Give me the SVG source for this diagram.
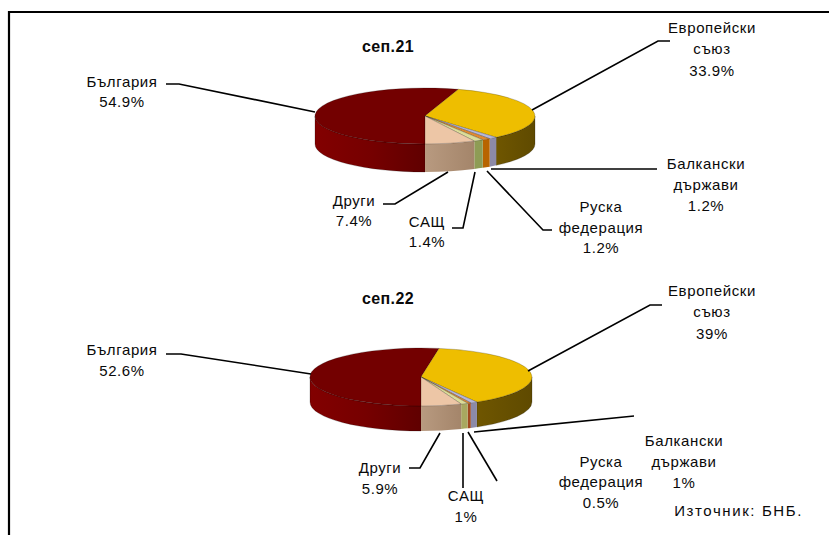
<svg xmlns="http://www.w3.org/2000/svg" width="829" height="535" viewBox="0 0 829 535">
<style>
text{font-family:"Liberation Sans",Arial,sans-serif;font-size:15px;fill:#0a0a0a;text-anchor:middle;letter-spacing:0.6px}
.title{font-weight:bold;font-size:16px;letter-spacing:0.4px}
.src{text-anchor:end;letter-spacing:1.6px}
.lead{fill:none;stroke:#000;stroke-width:1.6}
.edge{stroke:#000;stroke-opacity:0.35;stroke-width:0.6}
.frame{fill:none;stroke:#000;stroke-width:2.2}
</style>
<defs>
<linearGradient id="gBg" x1="0" y1="0" x2="1" y2="0"><stop offset="0" stop-color="#820000"/><stop offset="0.5" stop-color="#760000"/><stop offset="1" stop-color="#600000"/></linearGradient>
<linearGradient id="gEu" x1="0" y1="0" x2="1" y2="0"><stop offset="0" stop-color="#6f5600"/><stop offset="1" stop-color="#5f4a00"/></linearGradient>
<linearGradient id="gOt" x1="0" y1="0" x2="1" y2="0"><stop offset="0" stop-color="#b89a80"/><stop offset="1" stop-color="#a4856a"/></linearGradient>
</defs>
<rect width="829" height="535" fill="#fff"/>
<path class="frame" d="M9,535 V12 H829"/>

<g id="pie-sep21">
  <g id="s21-bg"><path fill="url(#gBg)" class="edge" d="M425,144 A110,28 0 0,1 315,116 L315,144 A110,28 0 0,0 425,172 Z"/><path fill="#730000" class="edge" d="M425,116 L425,144 A110,28 0 1,1 458.33,89.32 Z"/></g>
  <g id="s21-eu"><path fill="url(#gEu)" class="edge" d="M535,116 A110,28 0 0,1 496.16,137.35 L496.16,165.35 A110,28 0 0,0 535,144 Z"/><path fill="#eebe00" class="edge" d="M425,116 L458.33,89.32 A110,28 0 0,1 496.16,137.35 Z"/></g>
  <g id="s21-bal"><path fill="#8c8aa8" d="M496.16,137.35 A110,28 0 0,1 489.66,138.65 L489.66,166.65 A110,28 0 0,0 496.16,165.35 Z"/><path fill="#b8b8d8" class="edge" d="M425,116 L496.16,137.35 A110,28 0 0,1 489.66,138.65 Z"/></g>
  <g id="s21-ru"><path fill="#b86400" d="M489.66,138.65 A110,28 0 0,1 482.75,139.83 L482.75,167.83 A110,28 0 0,0 489.66,166.65 Z"/><path fill="#e08a30" class="edge" d="M425,116 L489.66,138.65 A110,28 0 0,1 482.75,139.83 Z"/></g>
  <g id="s21-us"><path fill="#8e9c55" d="M482.75,139.83 A110,28 0 0,1 474.32,141.03 L474.32,169.03 A110,28 0 0,0 482.75,167.83 Z"/><path fill="#dcdc98" class="edge" d="M425,116 L482.75,139.83 A110,28 0 0,1 474.32,141.03 Z"/></g>
  <g id="s21-ot"><path fill="url(#gOt)" d="M474.32,141.03 A110,28 0 0,1 425,144 L425,172 A110,28 0 0,0 474.32,169.03 Z"/><path fill="#edc6a6" class="edge" d="M425,116 L474.32,141.03 A110,28 0 0,1 425,144 Z"/></g>
</g>

<g id="pie-sep22">
  <g id="s22-bg"><path fill="url(#gBg)" class="edge" d="M421,406 A111,29 0 0,1 310,377 L310,402 A111,29 0 0,0 421,431 Z"/><path fill="#730000" class="edge" d="M421,377 L421,406 A111,29 0 1,1 439.05,348.39 Z"/></g>
  <g id="s22-eu"><path fill="url(#gEu)" class="edge" d="M532,377 A111,29 0 0,1 476.91,402.05 L476.91,427.05 A111,29 0 0,0 532,402 Z"/><path fill="#eebe00" class="edge" d="M421,377 L439.05,348.39 A111,29 0 0,1 476.91,402.05 Z"/></g>
  <g id="s22-bal"><path fill="#8c8aa8" d="M476.91,402.05 A111,29 0 0,1 470.77,402.92 L470.77,427.92 A111,29 0 0,0 476.91,427.05 Z"/><path fill="#b8b8d8" class="edge" d="M421,377 L476.91,402.05 A111,29 0 0,1 470.77,402.92 Z"/></g>
  <g id="s22-ru"><path fill="#a04a20" d="M470.77,402.92 A111,29 0 0,1 467.63,403.32 L467.63,428.32 A111,29 0 0,0 470.77,427.92 Z"/><path fill="#e08a30" class="edge" d="M421,377 L470.77,402.92 A111,29 0 0,1 467.63,403.32 Z"/></g>
  <g id="s22-us"><path fill="#a8a860" d="M467.63,403.32 A111,29 0 0,1 461.2,404.03 L461.2,429.03 A111,29 0 0,0 467.63,428.32 Z"/><path fill="#dcdc98" class="edge" d="M421,377 L467.63,403.32 A111,29 0 0,1 461.2,404.03 Z"/></g>
  <g id="s22-ot"><path fill="url(#gOt)" d="M461.2,404.03 A111,29 0 0,1 421,406 L421,431 A111,29 0 0,0 461.2,429.03 Z"/><path fill="#edc6a6" class="edge" d="M421,377 L461.2,404.03 A111,29 0 0,1 421,406 Z"/></g>
</g>

<g id="connectors">
  <polyline class="lead" points="166,84 179,84 315,112"/>
  <polyline class="lead" points="670,41 658,41 532,110"/>
  <polyline class="lead" points="491,169 657,169"/>
  <polyline class="lead" points="487,171 543,230 552,230"/>
  <polyline class="lead" points="475,172 463,228 452,228"/>
  <polyline class="lead" points="448,172 395,204 383,204"/>
  <polyline class="lead" points="166,354 181,354 311,374"/>
  <polyline class="lead" points="662,305 650,305 528,371"/>
  <polyline class="lead" points="474,432 634,416"/>
  <polyline class="lead" points="468,432 497,481"/>
  <polyline class="lead" points="463,433 463,488"/>
  <polyline class="lead" points="440,433 420,468 409,468"/>
</g>

<g id="title-sep21"><text class="title" x="388" y="52">сеп.21</text></g>
<g id="title-sep22"><text class="title" x="388" y="304">сеп.22</text></g>

<g id="lbl21-bg"><text x="122" y="86.5">България</text><text x="122" y="107">54.9%</text></g>
<g id="lbl21-eu"><text x="712" y="32.5">Европейски</text><text x="712" y="54">съюз</text><text x="712" y="75.5">33.9%</text></g>
<g id="lbl21-bal"><text x="706" y="168.5">Балкански</text><text x="706" y="189.5">държави</text><text x="706" y="210.5">1.2%</text></g>
<g id="lbl21-ru"><text x="601" y="212">Руска</text><text x="601" y="232.5">федерация</text><text x="601" y="253">1.2%</text></g>
<g id="lbl21-ot"><text x="354" y="205.5">Други</text><text x="354" y="226">7.4%</text></g>
<g id="lbl21-us"><text x="427" y="226.5">САЩ</text><text x="427" y="247">1.4%</text></g>

<g id="lbl22-bg"><text x="122" y="354.5">България</text><text x="122" y="375.5">52.6%</text></g>
<g id="lbl22-eu"><text x="712" y="295.5">Европейски</text><text x="712" y="317">съюз</text><text x="712" y="338.5">39%</text></g>
<g id="lbl22-bal"><text x="684" y="445.5">Балкански</text><text x="684" y="466.5">държави</text><text x="684" y="487.5">1%</text></g>
<g id="lbl22-ru"><text x="601" y="466.5">Руска</text><text x="601" y="487">федерация</text><text x="601" y="507.5">0.5%</text></g>
<g id="lbl22-ot"><text x="380" y="472.5">Други</text><text x="380" y="493.5">5.9%</text></g>
<g id="lbl22-us"><text x="466" y="500.5">САЩ</text><text x="466" y="521.5">1%</text></g>

<g id="source"><text class="src" x="803" y="516">Източник: БНБ.</text></g>
</svg>
